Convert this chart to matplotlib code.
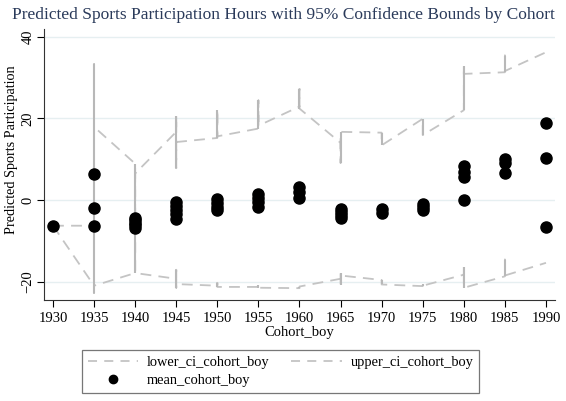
import numpy as np
import matplotlib
matplotlib.use('Agg')
import matplotlib.pyplot as plt
from matplotlib.lines import Line2D

plt.rcParams['font.family'] = ['Liberation Serif', 'DejaVu Serif']

# cohorts and per-cohort values
cohorts = [1930, 1935, 1940, 1945, 1950, 1955, 1960, 1965, 1970, 1975, 1980, 1985, 1990]

mean_vals = [
    [-6.3],
    [6.3, -2.0, -6.3],
    [-4.3, -5.0, -5.6, -6.2, -6.8],
    [-0.5, -1.5, -2.5, -3.5, -4.7],
    [0.3, -0.7, -1.6, -2.5],
    [1.4, 0.5, -0.5, -1.7],
    [3.2, 2.0, 0.6],
    [-2.3, -3.0, -3.7, -4.5],
    [-2.1, -3.3],
    [-1.0, -1.7, -2.5],
    [8.4, 6.9, 5.6, 0.0],
    [10.0, 9.0, 6.5],
    [18.9, 10.4, -6.5],
]

# confidence bound paths, in drawing order within each cohort
upper_vals = [
    [-6.3],
    [-6.3, 33.3, 17.9],
    [8.9, -5.0, 6.5],
    [16.7, 20.7, 7.8, 14.2],
    [15.2, 22.1, 15.6],
    [17.5, 24.4, 18.2],
    [22.9, 27.2, 22.4],
    [14.0, 9.1, 16.7],
    [16.5, 13.4],
    [19.9, 15.9],
    [22.0, 32.9, 30.9],
    [31.3, 35.4, 31.6],
    [36.2],
]

lower_vals = [
    [-6.3],
    [-21.0, -6.3, -22.8, -21.0],
    [-17.9, -5.0, -17.9],
    [-19.3, -17.1, -21.5, -20.6],
    [-21.0, -20.3, -21.3],
    [-21.3, -20.8, -21.5],
    [-21.6, -21.2],
    [-19.3, -20.9, -17.9, -18.5],
    [-19.6, -20.7],
    [-21.1, -20.5, -21.0],
    [-18.3, -16.3, -21.5],
    [-18.7, -14.6, -18.5],
    [-15.4],
]

xticks = list(range(1930, 1995, 5))
yticks = [-20, 0, 20, 40]

line_col = '#c4c4c4'
vert_col = '#b8b8b8'


def flatten(groups):
    xs, ys = [], []
    for c, vals in zip(cohorts, groups):
        for v in vals:
            xs.append(c)
            ys.append(v)
    return np.array(xs), np.array(ys)


fig = plt.figure(figsize=(5.66, 4.01), dpi=100)
ax = fig.add_axes([0.0777, 0.2519, 0.9029, 0.6758])

for y in yticks:
    ax.axhline(y, color='#e6eff1', linewidth=1.0, zorder=0)

# CI bounds: dashed across cohorts, solid within a cohort
for groups in (lower_vals, upper_vals):
    xs, ys = flatten(groups)
    ax.plot(xs, ys, color=line_col, linewidth=1.3, dashes=(6, 4), zorder=1)
    for c, vals in zip(cohorts, groups):
        if len(vals) > 1:
            ax.vlines(c, min(vals), max(vals), color=vert_col, linewidth=1.5, zorder=1)

mx, my = flatten(mean_vals)
ax.plot(mx, my, 'o', color='black', markersize=8, linestyle='none', zorder=3)

ax.set_xlim(1928.9, 1991.1)
ax.set_ylim(-24.5, 41.9)
ax.set_xticks(xticks)
ax.set_yticks(yticks)
ax.tick_params(axis='both', direction='out', length=5, width=0.8, labelsize=10.5, colors='black')
ax.tick_params(axis='y', pad=2)
for lbl in ax.get_yticklabels():
    lbl.set_rotation(90)
    lbl.set_va('center')

ax.spines['top'].set_visible(False)
ax.spines['right'].set_visible(False)
ax.spines['left'].set_color('#333333')
ax.spines['bottom'].set_color('#333333')

ax.set_xlabel('Cohort_boy', fontsize=10.5, labelpad=1)
ax.set_ylabel('Predicted Sports Participation', fontsize=10.2)
ax.yaxis.set_label_coords(-0.051, 0.553)
fig.text(0.5, 0.962, 'Predicted Sports Participation Hours with 95% Confidence Bounds by Cohort',
         ha='center', va='center', fontsize=12.5, color='#2a3a5a')

handles = [
    Line2D([], [], color=line_col, linewidth=1.3, dashes=(5, 4)),
    Line2D([], [], color='black', marker='o', markersize=6, linestyle='none'),
    Line2D([], [], color=line_col, linewidth=1.3, dashes=(5, 4)),
]
labels = ['lower_ci_cohort_boy', 'mean_cohort_boy', 'upper_ci_cohort_boy']
leg = fig.legend(handles, labels, ncol=2, loc='center', bbox_to_anchor=(0.4956, 0.0736),
                 fontsize=10.4, frameon=True, fancybox=False, edgecolor='#555555',
                 handlelength=3.5, handletextpad=0.6, columnspacing=1.5,
                 borderpad=0.4, labelspacing=0.35)
leg.get_frame().set_linewidth(0.9)

fig.savefig('out.png', dpi=100)
